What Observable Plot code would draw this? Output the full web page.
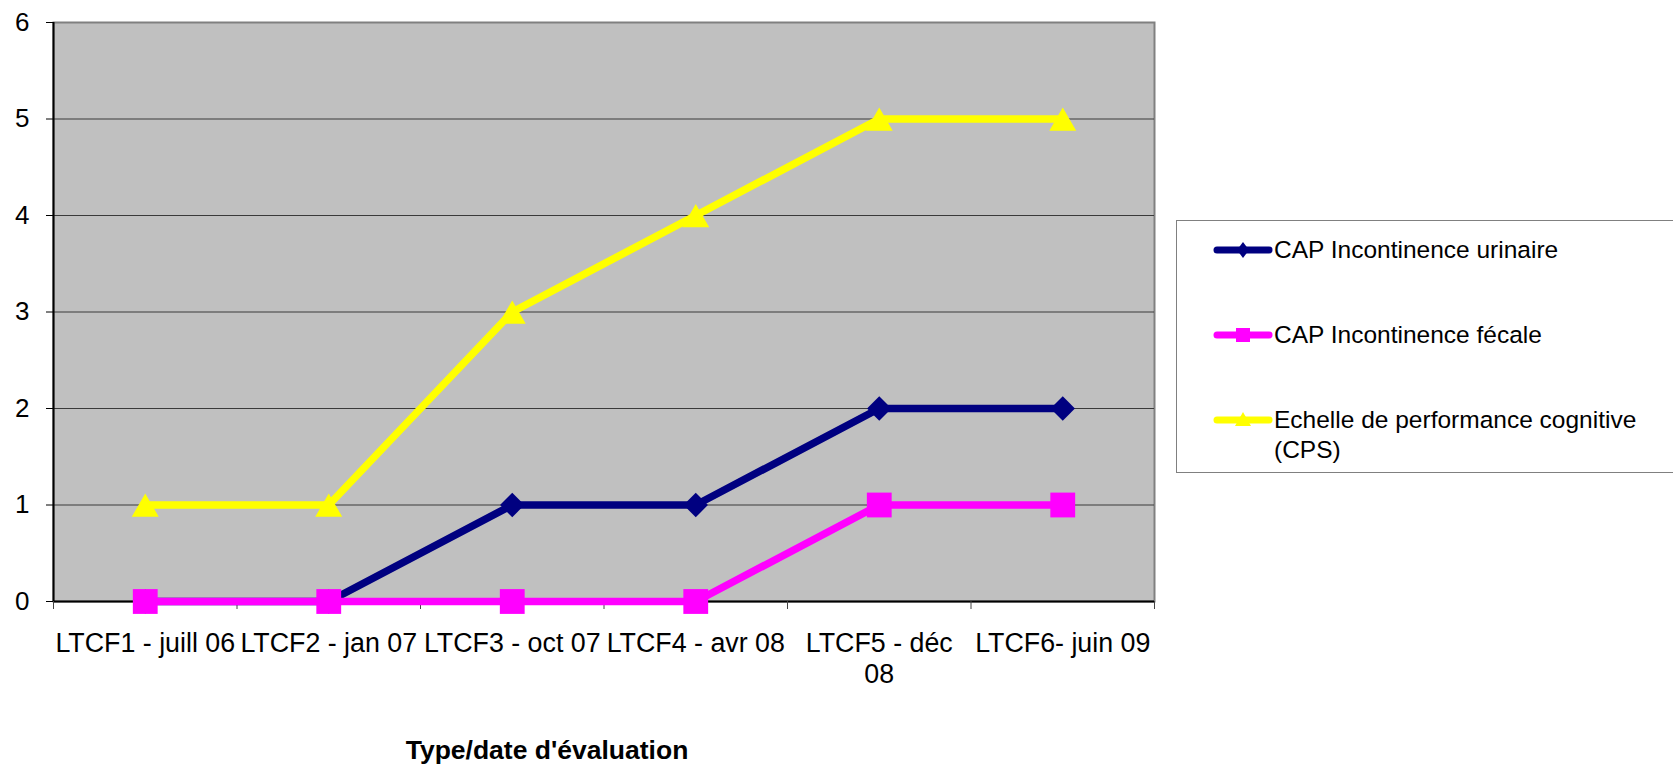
<!DOCTYPE html>
<html>
<head>
<meta charset="utf-8">
<script src="https://cdn.jsdelivr.net/npm/d3@7"></script>
<script src="https://cdn.jsdelivr.net/npm/@observablehq/plot@0.6"></script>
<style>
  html, body { margin: 0; padding: 0; background: #ffffff; }
  #wrap { position: relative; width: 1673px; height: 766px; overflow: hidden; font-family: "Liberation Sans", Arial, sans-serif; color: #000; }
  #legend { position: absolute; left: 1176px; top: 220px; width: 520px; height: 253px; border: 1px solid #808080; background: #fff; box-sizing: border-box; }
  .item { position: absolute; left: 0; width: 100%; }
  .item svg { position: absolute; left: 36px; }
  .item span { position: absolute; left: 97px; width: 400px; font-size: 24.5px; line-height: 30px; }
  #title { position: absolute; left: 347px; width: 400px; top: 735px; text-align: center; font-weight: bold; font-size: 26.5px; line-height: 30px; }
</style>
</head>
<body>
<div id="wrap">
  <div id="chart"></div>
  <div id="legend"></div>
  <div id="title">Type/date d'évaluation</div>
</div>
<script>
const categories = ["LTCF1 - juill 06", "LTCF2 - jan 07", "LTCF3 - oct 07", "LTCF4 - avr 08", "LTCF5 - déc 08", "LTCF6- juin 09"];
const tickLabels = ["LTCF1 - juill 06", "LTCF2 - jan 07", "LTCF3 - oct 07", "LTCF4 - avr 08", "LTCF5 - déc\n08", "LTCF6- juin 09"];
const yTicks = [0, 1, 2, 3, 4, 5, 6];
const urinaire = [0, 0, 1, 1, 2, 2];
const fecale = [0, 0, 0, 0, 1, 1];
const cps = [1, 1, 3, 4, 5, 5];
const seriesNames = ["CAP Incontinence urinaire", "CAP Incontinence fécale", "Echelle de performance cognitive (CPS)"];
const seriesValues = [urinaire, fecale, cps];
const colors = ["#000080", "#FF00FF", "#FFFF00"];
const symbols = ["diamond2", "square", "triangle"];
const symbolR = [11, 14, 10];
const symbolDy = [0, 0, 4];

const rowsFor = (vals, si) => vals.map((v, i) => ({series: seriesNames[si], cat: categories[i], x: i + 0.5, y: v}));

const seriesMarks = seriesValues.flatMap((vals, si) => {
  const rows = rowsFor(vals, si);
  return [
    Plot.line(rows, {x: "x", y: "y", stroke: colors[si], strokeWidth: 7.5, strokeLinejoin: "round"}),
    Plot.dot(rows, {x: "x", y: "y", symbol: symbols[si], r: symbolR[si], fill: colors[si], stroke: "none", dy: symbolDy[si]})
  ];
});

const boundaries = d3.range(0, categories.length + 1);
const centers = categories.map((c, i) => i + 0.5);

const chart = Plot.plot({
  width: 1673,
  height: 710,
  marginLeft: 53,
  marginRight: 519,
  marginTop: 22,
  marginBottom: 109,
  x: {domain: [0, categories.length]},
  y: {domain: [0, 6]},
  style: {fontFamily: "'Liberation Sans', Arial, sans-serif", fontSize: "26px", color: "#000", background: "#fff", overflow: "visible"},
  marks: [
    Plot.frame({fill: "#c0c0c0", stroke: "#808080", strokeWidth: 2}),
    Plot.gridY(yTicks.filter(d => d > 0 && d < 6), {stroke: "#3a3a3a", strokeOpacity: 1, strokeWidth: 1}),
    Plot.ruleY([0], {stroke: "#000", strokeWidth: 2}),
    Plot.ruleX([0], {stroke: "#000", strokeWidth: 2}),
    Plot.axisY(yTicks, {tickSize: 7, tickPadding: 17, fontSize: 26, label: null, stroke: "#000", tickFormat: d3.format("d")}),
    Plot.axisX(boundaries, {tickSize: 8, tickFormat: () => "", label: null, stroke: "#444"}),
    Plot.axisX(centers, {tickSize: 0, tickPadding: 28, tickFormat: d => tickLabels[Math.floor(d)], lineHeight: 1.17, fontSize: 26.8, label: null}),
    ...seriesMarks
  ]
});
document.getElementById("chart").appendChild(chart);

// Legend
const legend = document.getElementById("legend");
const legendTops = [29, 114, 199];
seriesNames.forEach((name, si) => {
  const item = document.createElement("div");
  item.className = "item";
  item.style.top = (legendTops[si] - 15) + "px";
  const w = 60, h = 30, cx = w / 2, cy = h / 2;
  let marker = "";
  if (symbols[si] === "diamond2") marker = `<polygon points="${cx},${cy-8} ${cx+6},${cy} ${cx},${cy+8} ${cx-6},${cy}" fill="${colors[si]}"/>`;
  else if (symbols[si] === "square") marker = `<rect x="${cx-7}" y="${cy-7}" width="14" height="14" fill="${colors[si]}"/>`;
  else marker = `<polygon points="${cx},${cy-8} ${cx+8},${cy+6} ${cx-8},${cy+6}" fill="${colors[si]}"/>`;
  item.innerHTML = `<svg width="${w}" height="${h}" style="top:0"><line x1="4" x2="${w-4}" y1="${cy}" y2="${cy}" stroke="${colors[si]}" stroke-width="7" stroke-linecap="round"/>${marker}</svg><span style="top:0">${name}</span>`;
  legend.appendChild(item);
});
</script>
</body>
</html>
